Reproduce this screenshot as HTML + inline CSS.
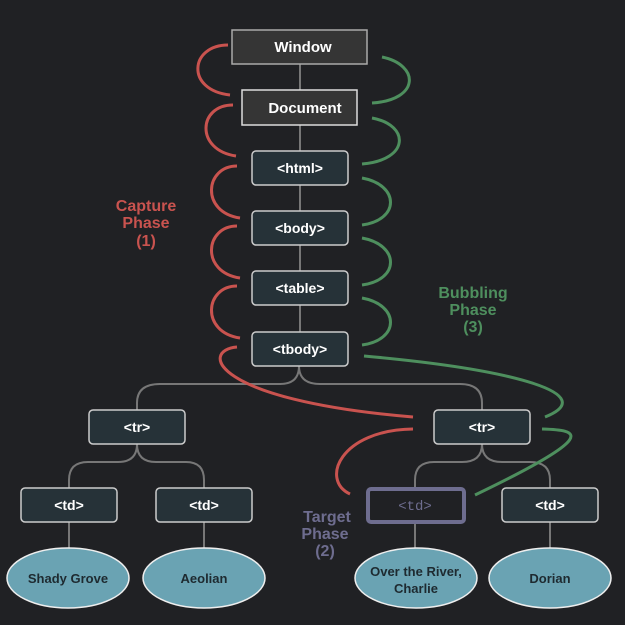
<!DOCTYPE html>
<html><head><meta charset="utf-8"><style>
html,body{margin:0;padding:0;background:#202124;}
svg{display:block;}
text{font-family:"Liberation Sans",sans-serif;font-weight:bold;}
</style></head><body>
<svg width="625" height="625" viewBox="0 0 625 625" xmlns="http://www.w3.org/2000/svg">
<rect width="625" height="625" fill="#202124"/>
<!-- tree connectors -->
<g fill="none" stroke="#777" stroke-width="2">
<line x1="300" y1="64" x2="300" y2="90"/>
<line x1="300" y1="125" x2="300" y2="151"/>
<line x1="300" y1="185" x2="300" y2="211"/>
<line x1="300" y1="245" x2="300" y2="271"/>
<line x1="300" y1="305" x2="300" y2="332"/>
<path d="M299 366 Q299 384 280 384 L160 384 Q137 384 137 403 L137 410"/>
<path d="M299 366 Q299 384 320 384 L460 384 Q482 384 482 403 L482 410"/>
<path d="M137 444 Q137 462 118 462 L88 462 Q69 462 69 480 L69 488"/>
<path d="M137 444 Q137 462 156 462 L186 462 Q204 462 204 480 L204 488"/>
<path d="M482 444 Q482 462 462 462 L434 462 Q415 462 415 480 L415 488"/>
<path d="M482 444 Q482 462 502 462 L530 462 Q550 462 550 480 L550 488"/>
<line x1="69" y1="522" x2="69" y2="548"/>
<line x1="204" y1="522" x2="204" y2="548"/>
<line x1="415" y1="522" x2="415" y2="548"/>
<line x1="550" y1="522" x2="550" y2="548"/>
</g>
<!-- red arcs -->
<g fill="none" stroke="#c9534f" stroke-width="3">
<path d="M228 45 C190 45 185 90 230 95"/>
<path d="M233 105 C198 105 195 150 236 156"/>
<path d="M237 166 C205 166 200 212 240 218"/>
<path d="M237 226 C205 226 200 272 240 278"/>
<path d="M237 286 C205 286 200 332 240 338"/>
<path d="M237 347 C200 350 210 400 413 417"/>
<path d="M413 429 C340 430 320 480 350 494"/>
</g>
<!-- green arcs -->
<g fill="none" stroke="#4e8f5e" stroke-width="3">
<path d="M382 57 C420 65 420 100 372 103"/>
<path d="M372 118 C410 125 410 160 362 164"/>
<path d="M362 178 C400 185 400 220 362 225"/>
<path d="M362 238 C400 245 400 280 362 285"/>
<path d="M362 298 C400 305 400 340 362 345"/>
<path d="M364 356 C520 370 600 395 545 417"/>
<path d="M542 429 C580 430 600 435 475 495"/>
</g>
<!-- boxes -->
<rect x="232" y="30" width="135" height="34" fill="#353535" stroke="#aaa" stroke-width="1.5"/>
<text x="303" y="52" fill="#fff" font-size="15" text-anchor="middle">Window</text>
<rect x="242" y="90" width="115" height="35" fill="#353535" stroke="#ddd" stroke-width="1.5"/>
<text x="305" y="113" fill="#fff" font-size="15" text-anchor="middle">Document</text>
<g fill="#263238" stroke="#ccc" stroke-width="1.5">
<rect x="252" y="151" width="96" height="34" rx="4"/>
<rect x="252" y="211" width="96" height="34" rx="4"/>
<rect x="252" y="271" width="96" height="34" rx="4"/>
<rect x="252" y="332" width="96" height="34" rx="4"/>
<rect x="89" y="410" width="96" height="34" rx="4"/>
<rect x="434" y="410" width="96" height="34" rx="4"/>
<rect x="21" y="488" width="96" height="34" rx="4"/>
<rect x="156" y="488" width="96" height="34" rx="4"/>
<rect x="502" y="488" width="96" height="34" rx="4"/>
</g>
<rect x="368" y="489" width="96" height="33" rx="3" fill="#202124" stroke="#6e6d8f" stroke-width="4"/>
<g fill="#fff" font-size="14" text-anchor="middle">
<text x="300" y="173">&lt;html&gt;</text>
<text x="300" y="233">&lt;body&gt;</text>
<text x="300" y="293">&lt;table&gt;</text>
<text x="300" y="354">&lt;tbody&gt;</text>
<text x="137" y="432">&lt;tr&gt;</text>
<text x="482" y="432">&lt;tr&gt;</text>
<text x="69" y="510">&lt;td&gt;</text>
<text x="204" y="510">&lt;td&gt;</text>
<text x="550" y="510">&lt;td&gt;</text>
</g>
<text x="415" y="510" fill="#6e6d8f" font-size="14" text-anchor="middle" style="font-family:'Liberation Mono',monospace;font-weight:normal">&lt;td&gt;</text>
<!-- ellipses -->
<g fill="#6aa3b3" stroke="#eee" stroke-width="1.5">
<ellipse cx="68" cy="578" rx="61" ry="30"/>
<ellipse cx="204" cy="578" rx="61" ry="30"/>
<ellipse cx="416" cy="578" rx="61" ry="30"/>
<ellipse cx="550" cy="578" rx="61" ry="30"/>
</g>
<g fill="#1e2a30" font-size="13" text-anchor="middle">
<text x="68" y="583">Shady Grove</text>
<text x="204" y="583">Aeolian</text>
<text x="416" y="576">Over the River,</text>
<text x="416" y="593">Charlie</text>
<text x="550" y="583">Dorian</text>
</g>
<!-- phase labels -->
<g font-size="16" text-anchor="middle">
<text x="146" y="211" fill="#c9534f">Capture</text>
<text x="146" y="228" fill="#c9534f">Phase</text>
<text x="146" y="246" fill="#c9534f">(1)</text>
<text x="473" y="298" fill="#4e8f5e">Bubbling</text>
<text x="473" y="315" fill="#4e8f5e">Phase</text>
<text x="473" y="332" fill="#4e8f5e">(3)</text>
<text x="327" y="522" fill="#6e6d8f">Target</text>
<text x="325" y="539" fill="#6e6d8f">Phase</text>
<text x="325" y="556" fill="#6e6d8f">(2)</text>
</g>
</svg>
</body></html>
